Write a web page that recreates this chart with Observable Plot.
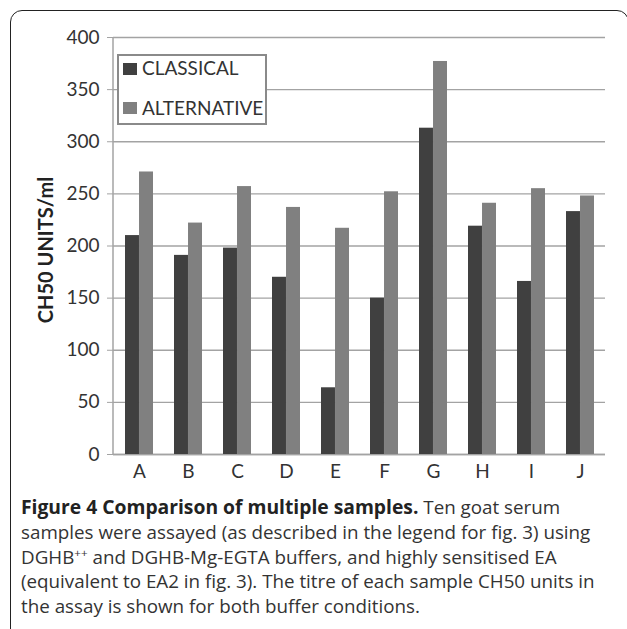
<!DOCTYPE html>
<html><head><meta charset="utf-8">
<script src="https://cdn.jsdelivr.net/npm/d3@7"></script>
<script src="https://cdn.jsdelivr.net/npm/@observablehq/plot@0.6"></script>
<style>
body{margin:0;width:627px;height:629px;overflow:hidden;background:#fff;position:relative;font-family:Lato,sans-serif}
#frame{position:absolute;left:10px;top:10px;width:619px;height:650px;border:1.5px solid #222;border-radius:12px;box-sizing:border-box}
#chart{position:absolute;left:0;top:0}
#legend{position:absolute;left:117px;top:54px;width:150px;height:71px;border:2px solid #8a8a8a;background:#fff;box-sizing:border-box;font-family:Lato,sans-serif;font-size:19px;line-height:19px;color:#333}
.sw{position:absolute;left:4px;width:14px;height:12px}
.lt{position:absolute;left:23px;white-space:nowrap}
#caption{position:absolute;left:21px;top:495px;width:606px;font-family:"Open Sans",sans-serif;font-size:18.8px;line-height:24.75px;color:#333;white-space:pre}
#caption b{color:#222;font-size:19.3px}
</style></head>
<body>
<div id="frame"></div>
<div id="chart"></div>
<div id="legend"></div>
<div id="caption"></div>
<script>
const categories = ["A","B","C","D","E","F","G","H","I","J"];
const seriesNames = ["CLASSICAL","ALTERNATIVE"];
const classical = [210,191,198,170,64,150,313,219,166,233];
const alternative = [271,222,257,237,217,252,377,241,255,248];
const yTicks = [0,50,100,150,200,250,300,350,400];
const seriesColors = ["#404040","#808080"];
const yLabel = "CH50 UNITS/ml";
const captionBold = "Figure 4 Comparison of multiple samples.";
const captionLines = [
  " Ten goat serum",
  "samples were assayed (as described in the legend for fig. 3) using",
  "DGHB<sup style=\"font-size:0.62em;line-height:0\">++</sup> and DGHB-Mg-EGTA buffers, and highly sensitised EA",
  "(equivalent to EA2 in fig. 3). The titre of each sample CH50 units in",
  "the assay is shown for both buffer conditions."
];

const W = 627, H = 480, mL = 113, mR = 22, mT = 37, mB = 26;
const pIn = 0.43, pOut = 0.215;
const step = (W - mL - mR) / (categories.length - pIn + 2 * pOut);
const half = step * (1 - pIn) / 2;

const data = [];
categories.forEach((c, i) => {
  data.push({cat: c, series: seriesNames[0], value: classical[i]});
  data.push({cat: c, series: seriesNames[1], value: alternative[i]});
});

const chart = Plot.plot({
  width: W, height: H,
  marginLeft: mL, marginRight: mR, marginTop: mT, marginBottom: mB,
  style: {fontFamily: "Lato, sans-serif", fontSize: "19px", color: "#333", background: "transparent", overflow: "visible"},
  x: {domain: categories, paddingInner: pIn, paddingOuter: pOut, label: null},
  y: {domain: [0, 400], ticks: yTicks, label: null},
  color: {domain: seriesNames, range: seriesColors},
  marks: [
    Plot.gridY(yTicks, {stroke: "#a3a3a3", strokeOpacity: 1, strokeWidth: 1.3}),
    Plot.ruleY([0], {stroke: "#a3a3a3", strokeWidth: 1.5}),
    Plot.barY(data.filter(d => d.series === seriesNames[0]), {x: "cat", y: "value", fill: "series", insetRight: half}),
    Plot.barY(data.filter(d => d.series === seriesNames[1]), {x: "cat", y: "value", fill: "series", insetLeft: half}),
    Plot.axisY(yTicks, {tickSize: 6, tickPadding: 8, stroke: "#a3a3a3", fill: "#333", label: null}),
    Plot.axisX({tickSize: 0, tickPadding: 10, fill: "#333", label: null}),
    Plot.text([yLabel], {frameAnchor: "left", dx: -67, dy: 4, rotate: -90, textAnchor: "middle", text: d => d, fontWeight: "bold", fontSize: 20, fill: "#222"})
  ]
});
document.getElementById("chart").appendChild(chart);
const svg = d3.select(chart.tagName.toLowerCase() === "svg" ? chart : chart.querySelector("svg"));
svg.append("line").attr("x1", mL).attr("x2", mL).attr("y1", mT).attr("y2", H - mB).attr("stroke", "#a3a3a3").attr("stroke-width", 1.5);

const leg = document.getElementById("legend");
seriesNames.forEach((s, i) => {
  const sw = document.createElement("span");
  sw.className = "sw";
  sw.style.background = seriesColors[i];
  sw.style.top = (i === 0 ? 7 : 46) + "px";
  leg.appendChild(sw);
  const t = document.createElement("span");
  t.className = "lt";
  t.style.top = (i === 0 ? 2 : 42) + "px";
  t.textContent = s;
  leg.appendChild(t);
});

document.getElementById("caption").innerHTML = `<b>${captionBold}</b>` + captionLines.join("\n");
</script>
</body></html>
